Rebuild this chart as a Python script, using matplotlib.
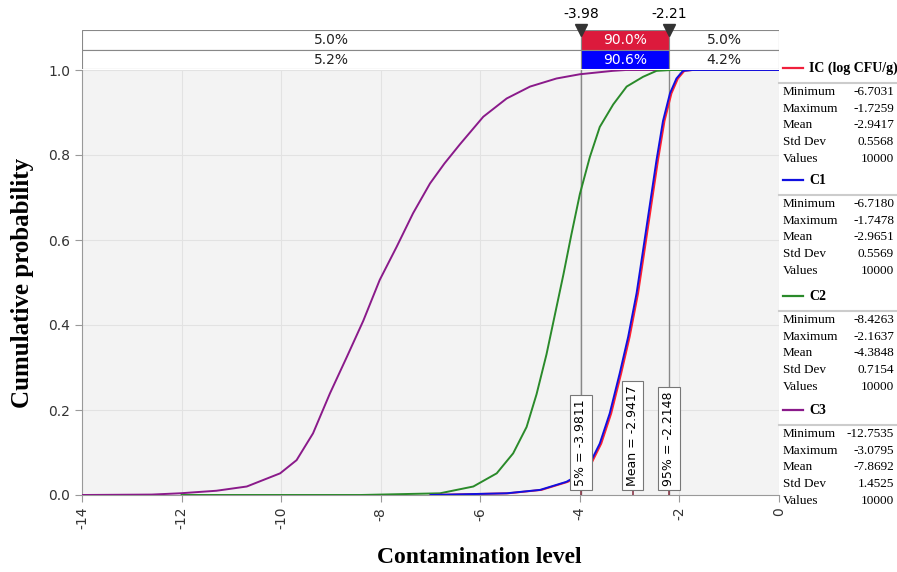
import matplotlib.pyplot as plt
from matplotlib.lines import Line2D
import numpy as np

# curves (x = log CFU/g, p = cumulative probability)
c3_x = [-14, -12.6, -12.03, -11.3, -10.69, -10.02, -9.69, -9.36, -9.02, -8.68, -8.35, -8.02,
        -7.68, -7.35, -7.01, -6.72, -6.41, -5.94, -5.47, -5.0, -4.47, -4.0, -3.34, -3.08, 0]
c3_p = [0, 0.001, 0.004, 0.01, 0.02, 0.051, 0.082, 0.145, 0.239, 0.325, 0.41, 0.506,
        0.584, 0.663, 0.733, 0.78, 0.825, 0.89, 0.933, 0.961, 0.98, 0.99, 0.998, 1, 1]

c2_x = [-12, -8.4, -6.81, -6.14, -5.67, -5.34, -5.07, -4.87, -4.67, -4.50, -4.33, -4.17,
        -4.0, -3.80, -3.60, -3.33, -3.06, -2.73, -2.46, -2.16, 0]
c2_p = [0, 0.0, 0.004, 0.02, 0.051, 0.098, 0.16, 0.237, 0.331, 0.425, 0.519, 0.613,
        0.708, 0.795, 0.866, 0.919, 0.961, 0.984, 0.998, 1, 1]

c1_x = [-7.0, -5.47, -4.80, -4.27, -3.98, -3.80, -3.60, -3.40, -3.20, -3.03, -2.86, -2.73,
        -2.59, -2.46, -2.33, -2.19, -2.06, -1.93, -1.75, 0]
c1_p = [0, 0.004, 0.012, 0.031, 0.05, 0.074, 0.121, 0.192, 0.286, 0.372, 0.475, 0.576,
        0.686, 0.788, 0.88, 0.945, 0.98, 0.998, 1, 1]

ic_x = [-7.0, -5.44, -4.77, -4.24, -3.95, -3.77, -3.57, -3.37, -3.17, -3.0, -2.83, -2.70,
        -2.56, -2.43, -2.30, -2.16, -2.03, -1.90, -1.73, 0]
ic_p = [0, 0.004, 0.012, 0.031, 0.05, 0.074, 0.121, 0.192, 0.286, 0.372, 0.475, 0.576,
        0.686, 0.788, 0.88, 0.945, 0.98, 0.998, 1, 1]

# top delimiter bars
delim = [-3.98, -2.21]
row_ic = ["5.0%", "90.0%", "5.0%"]
row_c1 = ["5.2%", "90.6%", "4.2%"]

# marker boxes on the axis
mark_x = [-3.9811, -2.9417, -2.2148]
mark_lab = ["5% = -3.9811", "Mean = -2.9417", "95% = -2.2148"]

# statistics panel
series = ["IC (log CFU/g)", "C1", "C2", "C3"]
colors = ["#f0203c", "#1010e0", "#2a8a2a", "#8a1a8a"]
stat_names = ["Minimum", "Maximum", "Mean", "Std Dev", "Values"]
stat_vals = [["-6.7031", "-1.7259", "-2.9417", "0.5568", "10000"],
             ["-6.7180", "-1.7478", "-2.9651", "0.5569", "10000"],
             ["-8.4263", "-2.1637", "-4.3848", "0.7154", "10000"],
             ["-12.7535", "-3.0795", "-7.8692", "1.4525", "10000"]]

W, H = 897, 572
fig = plt.figure(figsize=(W / 100, H / 100), dpi=100)
sans = "DejaVu Sans"
serif = "Liberation Serif"

def fx(px):
    return px / W

def fy(py):
    return 1 - py / H

ax = fig.add_axes([fx(82), fy(495), fx(779 - 82), (495 - 70) / H])
ax.set_facecolor("#f3f3f3")
ax.plot(c3_x, c3_p, color=colors[3], lw=1.4, zorder=3)
ax.plot(c2_x, c2_p, color=colors[2], lw=1.4, zorder=4)
ax.plot(ic_x, ic_p, color="#ff2030", lw=1.4, zorder=5)
ax.plot(c1_x, c1_p, color=colors[1], lw=1.4, zorder=6)
ax.set_xlim(-14, 0)
ax.set_ylim(0, 1)
ax.set_xticks(np.arange(-14, 1, 2))
ax.set_yticks(np.arange(0, 1.01, 0.2))
ax.set_xticklabels([str(v) for v in range(-14, 1, 2)], rotation=90, fontsize=10, family=sans)
ax.set_yticklabels(["%.1f" % v for v in np.arange(0, 1.01, 0.2)], fontsize=10, family=sans)
ax.grid(color="#e2e2e2", lw=0.8)
ax.set_axisbelow(True)
for s in ["top", "right"]:
    ax.spines[s].set_visible(False)
for s in ["left", "bottom"]:
    ax.spines[s].set_color("#999999")
ax.tick_params(colors="#999999", length=5, labelcolor="#333333")

for d in delim:
    ax.axvline(d, color="#888888", lw=1, zorder=2)

# marker boxes
for xv, lab in zip(mark_x, mark_lab):
    ax.plot([xv, xv], [0, 0.02], color="#8b3a4a", lw=1.2, zorder=7)
    ax.text(xv, 0.022, lab, rotation=90, ha="center", va="bottom", fontsize=9, family=sans,
            zorder=8, bbox=dict(boxstyle="square,pad=0.35", fc="white", ec="#777777", lw=0.8))

ax.set_ylabel("Cumulative probability", family=serif, fontweight="bold", fontsize=18, labelpad=10)
ax.set_xlabel("Contamination level", family=serif, fontweight="bold", fontsize=17)
ax.xaxis.set_label_coords(0.57, -0.122)

# top bars
tb = fig.add_axes([fx(82), fy(69), fx(779 - 82), 39 / H])
tb.set_xlim(-14, 0)
tb.set_ylim(0, 2)
tb.axis("off")
edges = [-14, delim[0], delim[1], 0]
for row, labs, col in [(1, row_ic, "#dc1a3c"), (0, row_c1, "#0000ff")]:
    for i in range(3):
        fc = col if i == 1 else "white"
        tb.barh(row + 0.5, edges[i + 1] - edges[i], left=edges[i], height=1,
                color=fc, edgecolor="#888888", lw=0.8)
        tb.text((edges[i] + edges[i + 1]) / 2, row + 0.47, labs[i], ha="center", va="center",
                fontsize=10, family=sans, color="white" if i == 1 else "#222222")
for d in delim:
    tb.plot(d, 2, marker="v", color="#333333", ms=8, clip_on=False)
    tb.text(d, 2.45, "%.2f" % d, ha="center", va="bottom", fontsize=10, family=sans)

# stats panel
y0 = [68, 180, 296, 410]
for k in range(4):
    yy = y0[k]
    fig.add_artist(Line2D([fx(783), fx(803)], [fy(yy), fy(yy)], color=colors[k], lw=1.6))
    fig.text(fx(809), fy(yy), series[k], family=serif, fontweight="bold", fontsize=10, va="center")
    fig.add_artist(Line2D([fx(779), fx(897)], [fy(yy + 15), fy(yy + 15)], color="#cccccc", lw=1.5))
    for j in range(5):
        ty = yy + 24 + j * 16.7
        fig.text(fx(783), fy(ty), stat_names[j], family=serif, fontsize=9.5, va="center")
        fig.text(fx(894), fy(ty), stat_vals[k][j], family=serif, fontsize=9.5, va="center", ha="right")

plt.savefig("out.png", dpi=100)
